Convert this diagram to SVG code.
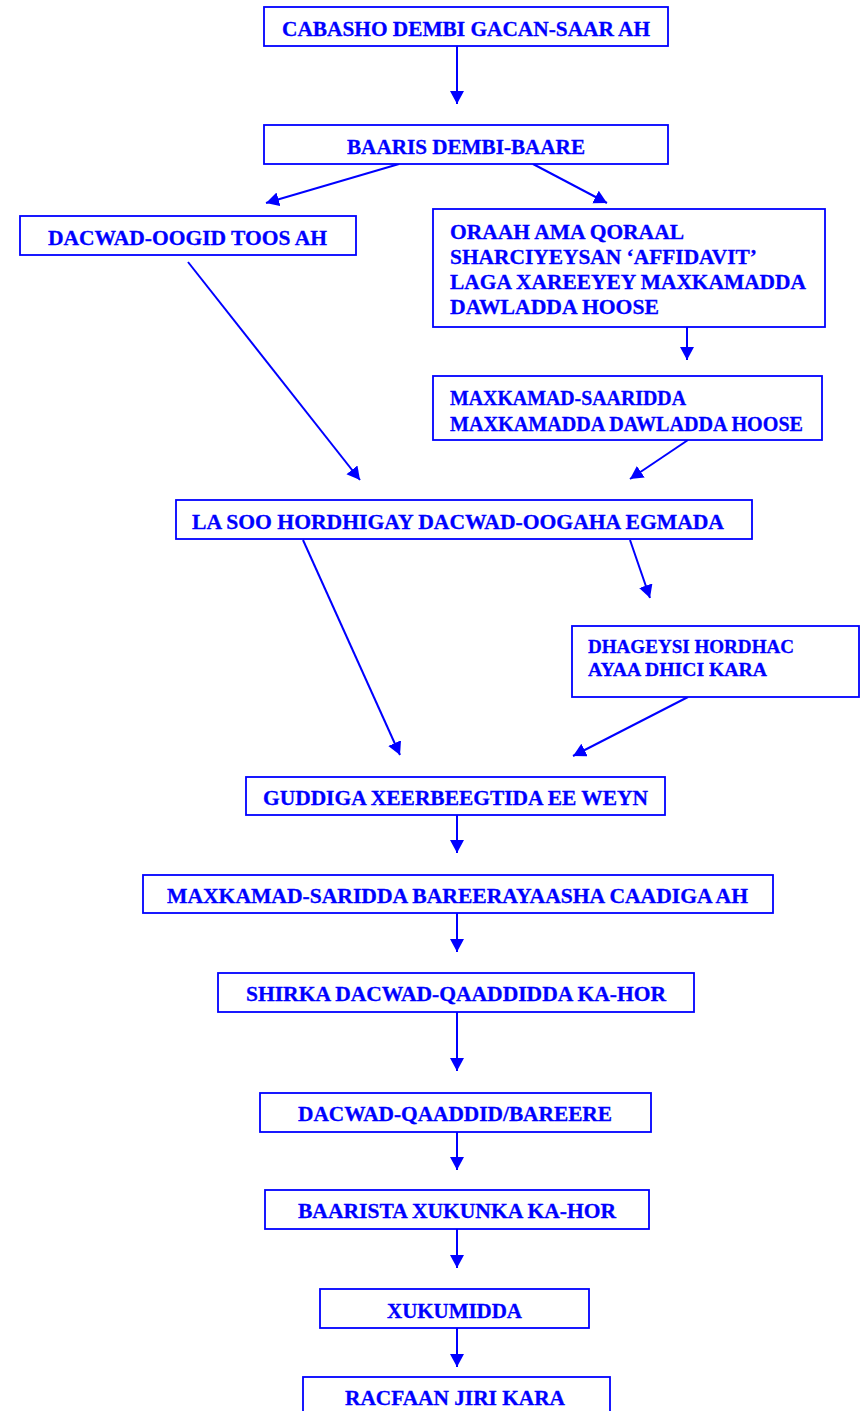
<svg xmlns="http://www.w3.org/2000/svg" width="863" height="1411" viewBox="0 0 863 1411">
<style>
.box{fill:#fff;stroke:#0000ff;stroke-width:1.8}
.t{font-family:"Liberation Serif","Times New Roman",serif;font-weight:bold;font-size:21px;fill:#0000ff;stroke:#0000ff;stroke-width:0.3}
.s{font-size:19.5px}
.c{stroke:#0000ff;stroke-width:2;fill:none;marker-end:url(#ah)}
</style>
<defs>
<marker id="ah" markerUnits="userSpaceOnUse" markerWidth="16" markerHeight="16" refX="13" refY="7" orient="auto">
<path d="M0,0 L13,7 L0,14 Z" fill="#0000ff"/>
</marker>
</defs>
<rect width="863" height="1411" fill="#fff"/>
<g id="connectors">
<line class="c" x1="457" y1="46" x2="457" y2="104"/>
<line class="c" x1="399" y1="164" x2="266" y2="203"/>
<line class="c" x1="533" y1="164" x2="607" y2="203"/>
<line class="c" x1="687" y1="327" x2="687" y2="360"/>
<line class="c" x1="188" y1="262" x2="360" y2="480"/>
<line class="c" x1="688" y1="440" x2="630" y2="479"/>
<line class="c" x1="303" y1="540" x2="400" y2="755"/>
<line class="c" x1="630" y1="540" x2="650" y2="598"/>
<line class="c" x1="688" y1="697" x2="573" y2="756"/>
<line class="c" x1="457" y1="815" x2="457" y2="853"/>
<line class="c" x1="457" y1="913" x2="457" y2="952"/>
<line class="c" x1="457" y1="1012" x2="457" y2="1071"/>
<line class="c" x1="457" y1="1132" x2="457" y2="1170"/>
<line class="c" x1="457" y1="1229" x2="457" y2="1268"/>
<line class="c" x1="457" y1="1328" x2="457" y2="1367"/>
</g>
<g id="n1"><rect class="box" x="264" y="7" width="404" height="39"/><text class="t" x="282" y="36" textLength="368" lengthAdjust="spacingAndGlyphs">CABASHO DEMBI GACAN-SAAR AH</text></g>
<g id="n2"><rect class="box" x="264" y="125" width="404" height="39"/><text class="t" x="347" y="154" textLength="238" lengthAdjust="spacingAndGlyphs">BAARIS DEMBI-BAARE</text></g>
<g id="n3"><rect class="box" x="20" y="216" width="336" height="39"/><text class="t" x="48" y="245" textLength="279" lengthAdjust="spacingAndGlyphs">DACWAD-OOGID TOOS AH</text></g>
<g id="n4"><rect class="box" x="433" y="209" width="392" height="118"/>
<text class="t" x="450" y="239" textLength="234" lengthAdjust="spacingAndGlyphs">ORAAH AMA QORAAL</text>
<text class="t" x="450" y="264" textLength="307" lengthAdjust="spacingAndGlyphs">SHARCIYEYSAN ‘AFFIDAVIT’</text>
<text class="t" x="450" y="289" textLength="356" lengthAdjust="spacingAndGlyphs">LAGA XAREEYEY MAXKAMADDA</text>
<text class="t" x="450" y="314" textLength="209" lengthAdjust="spacingAndGlyphs">DAWLADDA HOOSE</text></g>
<g id="n5"><rect class="box" x="433" y="376" width="389" height="64"/>
<text class="t" x="450" y="405" textLength="236" lengthAdjust="spacingAndGlyphs">MAXKAMAD-SAARIDDA</text>
<text class="t" x="450" y="431" textLength="353" lengthAdjust="spacingAndGlyphs">MAXKAMADDA DAWLADDA HOOSE</text></g>
<g id="n6"><rect class="box" x="176" y="500" width="576" height="39"/><text class="t" x="192" y="529" textLength="532" lengthAdjust="spacingAndGlyphs">LA SOO HORDHIGAY DACWAD-OOGAHA EGMADA</text></g>
<g id="n7"><rect class="box" x="572" y="626" width="287" height="71"/>
<text class="t s" x="588" y="653" textLength="206" lengthAdjust="spacingAndGlyphs">DHAGEYSI HORDHAC</text>
<text class="t s" x="588" y="676" textLength="179" lengthAdjust="spacingAndGlyphs">AYAA DHICI KARA</text></g>
<g id="n8"><rect class="box" x="246" y="777" width="419" height="38"/><text class="t" x="263" y="805" textLength="385" lengthAdjust="spacingAndGlyphs">GUDDIGA XEERBEEGTIDA EE WEYN</text></g>
<g id="n9"><rect class="box" x="143" y="875" width="630" height="38"/><text class="t" x="167" y="903" textLength="581" lengthAdjust="spacingAndGlyphs">MAXKAMAD-SARIDDA BAREERAYAASHA CAADIGA AH</text></g>
<g id="n10"><rect class="box" x="218" y="973" width="476" height="39"/><text class="t" x="246" y="1001" textLength="420" lengthAdjust="spacingAndGlyphs">SHIRKA DACWAD-QAADDIDDA KA-HOR</text></g>
<g id="n11"><rect class="box" x="260" y="1093" width="391" height="39"/><text class="t" x="298" y="1121" textLength="314" lengthAdjust="spacingAndGlyphs">DACWAD-QAADDID/BAREERE</text></g>
<g id="n12"><rect class="box" x="265" y="1190" width="384" height="39"/><text class="t" x="298" y="1218" textLength="318" lengthAdjust="spacingAndGlyphs">BAARISTA XUKUNKA KA-HOR</text></g>
<g id="n13"><rect class="box" x="320" y="1289" width="269" height="39"/><text class="t" x="387" y="1318" textLength="135" lengthAdjust="spacingAndGlyphs">XUKUMIDDA</text></g>
<g id="n14"><rect class="box" x="303" y="1377" width="307" height="40"/><text class="t" x="345" y="1405" textLength="220" lengthAdjust="spacingAndGlyphs">RACFAAN JIRI KARA</text></g>
</svg>
